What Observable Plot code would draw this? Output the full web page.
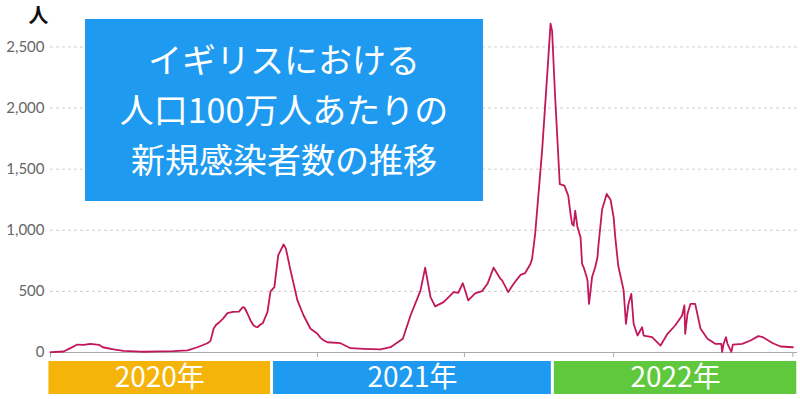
<!DOCTYPE html>
<html><head><meta charset="utf-8">
<script src="https://cdn.jsdelivr.net/npm/d3@7"></script>
<script src="https://cdn.jsdelivr.net/npm/@observablehq/plot@0.6"></script>
<style>
html,body{margin:0;padding:0;background:#fff;}
#wrap{position:relative;width:800px;height:399px;overflow:hidden;}
#wrap svg{display:block;}
#strip{position:absolute;left:0;top:352px;}
#title{position:absolute;left:85px;top:19px;width:398px;height:182px;background:#1e9bf0;color:#fff;font-family:"Noto Sans CJK JP";font-weight:400;font-size:34px;line-height:50px;text-align:center;padding-top:15px;box-sizing:border-box;}
</style></head><body><div id="wrap"><div id="strip"></div></div>
<script>
const dates = [
"2020-03-19","2020-03-21","2020-04-05","2020-04-12","2020-04-23","2020-05-01","2020-05-10","2020-05-21","2020-05-26","2020-06-09",
"2020-06-22","2020-07-14","2020-07-18","2020-08-09","2020-08-26","2020-09-13","2020-09-26","2020-10-09","2020-10-13","2020-10-17",
"2020-10-20","2020-10-24","2020-10-29","2020-11-04","2020-11-11","2020-11-19","2020-11-24","2020-11-26","2020-11-30","2020-12-04",
"2020-12-08","2020-12-11","2020-12-13","2020-12-17","2020-12-20","2020-12-26","2020-12-30","2021-01-04","2021-01-09","2021-01-16",
"2021-01-19","2021-01-25","2021-02-03","2021-02-11","2021-02-20","2021-03-01","2021-03-05","2021-03-09","2021-03-14","2021-03-31",
"2021-04-13","2021-04-30","2021-05-22","2021-06-04","2021-06-20","2021-06-30","2021-07-13","2021-07-19","2021-07-26","2021-08-01",
"2021-08-12","2021-08-25","2021-08-31","2021-09-06","2021-09-09","2021-09-13","2021-09-22","2021-10-01","2021-10-08","2021-10-16",
"2021-10-25","2021-10-27","2021-11-04","2021-11-11","2021-11-20","2021-11-26","2021-12-03","2021-12-05","2021-12-09","2021-12-18",
"2021-12-25","2021-12-29","2021-12-31","2022-01-04","2022-01-10","2022-01-16","2022-01-21","2022-01-24","2022-01-26","2022-01-28",
"2022-01-30","2022-02-02","2022-02-06","2022-02-08","2022-02-10","2022-02-14","2022-02-15","2022-02-17","2022-02-21","2022-02-25",
"2022-02-28","2022-03-01","2022-03-06","2022-03-12","2022-03-17","2022-03-21","2022-03-23","2022-03-27","2022-04-03","2022-04-06",
"2022-04-09","2022-04-13","2022-04-16","2022-04-21","2022-04-27","2022-04-29","2022-05-10","2022-05-21","2022-05-30","2022-06-09",
"2022-06-18","2022-06-21","2022-06-22","2022-06-25","2022-06-29","2022-07-05","2022-07-12","2022-07-21","2022-07-31","2022-08-08",
"2022-08-09","2022-08-11","2022-08-14","2022-08-16","2022-08-21","2022-08-23","2022-09-04","2022-09-15","2022-09-25","2022-10-01",
"2022-10-14","2022-10-24","2022-11-09"
];
const cases = [
2,3,8,30,65,63,70,63,43,25,
14,7,6,10,12,18,43,76,95,194,
225,245,275,322,333,334,371,368,319,262,
221,210,207,229,240,330,500,535,795,885,
850,672,426,303,194,153,120,100,84,76,
35,30,25,43,112,303,508,694,453,377,
412,494,489,567,508,426,483,502,562,694,
602,590,494,562,635,650,726,766,970,1650,
2304,2691,2631,2086,1378,1365,1283,1133,1052,1037,
1160,1024,942,726,697,617,590,398,617,697,
779,861,1170,1297,1250,1106,950,710,508,235,
390,480,235,139,207,139,125,57,153,221,
303,385,153,317,398,398,194,112,71,71,
5,71,125,71,5,65,71,98,134,125,
76,49,43
];
const yTicks = [0, 500, 1000, 1500, 2000, 2500];
const xTicks = ["2020-03-19", "2021-03-01", "2021-09-08", "2022-03-21", "2022-11-09"];
const xDomainDates = ["2020-03-19", "2022-11-15"];
const years = ["2020年", "2021年", "2022年"];
const yearStart = ["2020-03-15", "2021-01-01", "2022-01-01"];
const yearEnd = ["2021-01-01", "2022-01-01", "2022-11-16"];
const yearColors = ["#f5b40a", "#1e9bf0", "#5fc83c"];
const titleLines = ["イギリスにおける", "人口100万人あたりの", "新規感染者数の推移"];
const unitLabel = "人";

const data = dates.map((d, i) => ({date: new Date(d), value: cases[i]}));
const xDomain = xDomainDates.map(d => new Date(d));

const main = Plot.plot({
  width: 800, height: 399,
  marginTop: 22, marginBottom: 47, marginLeft: 50, marginRight: 3,
  style: {fontFamily: "Lato", fontSize: "15px", color: "#666", background: "transparent"},
  x: {type: "utc", domain: xDomain, label: null},
  y: {domain: [0, 2700], label: null},
  marks: [
    Plot.gridY(yTicks.filter(v => v > 0), {stroke: "#cfcfcf", strokeOpacity: 1, strokeDasharray: "3,3"}),
    Plot.axisY(yTicks, {tickSize: 0, tickPadding: 6, tickFormat: d3.format(","), fill: "#666", fontSize: 15, label: null}),
    Plot.axisX(xTicks.map(d => new Date(d)), {tickSize: 5, tickFormat: () => "", stroke: "#aaa", label: null}),
    Plot.ruleY([0], {stroke: "#aaa"}),
    Plot.lineY(data, {x: "date", y: "value", stroke: "#c2185b", strokeWidth: 1.8}),
    Plot.text([unitLabel], {frameAnchor: "top-left", dx: -12, dy: -6, fontSize: 20, fontWeight: "bold", fill: "#111", fontFamily: "Noto Sans CJK JP", textAnchor: "middle", lineAnchor: "middle"})
  ]
});

const bands = years.map((y, i) => ({label: y, x1: new Date(yearStart[i]), x2: new Date(yearEnd[i]), color: yearColors[i]}));
const strip = Plot.plot({
  width: 800, height: 47,
  marginTop: 9, marginBottom: 5, marginLeft: 50, marginRight: 3,
  style: {background: "transparent"},
  x: {type: "utc", domain: xDomain, axis: null},
  color: {type: "identity"},
  marks: [
    Plot.rect(bands, {x1: "x1", x2: "x2", fill: "color", insetLeft: 1.5, insetRight: 1.5}),
    Plot.text(bands, {x: d => new Date((+d.x1 + +d.x2) / 2), text: "label", frameAnchor: "middle", fill: "#fff", fontSize: 28, fontFamily: "Noto Sans CJK JP", fontWeight: 400})
  ]
});

const wrap = document.getElementById("wrap");
wrap.insertBefore(main, wrap.firstChild);
document.getElementById("strip").appendChild(strip);
const title = document.createElement("div");
title.id = "title";
titleLines.forEach(t => { const l = document.createElement("div"); l.textContent = t; title.appendChild(l); });
wrap.appendChild(title);
</script>
</body></html>
